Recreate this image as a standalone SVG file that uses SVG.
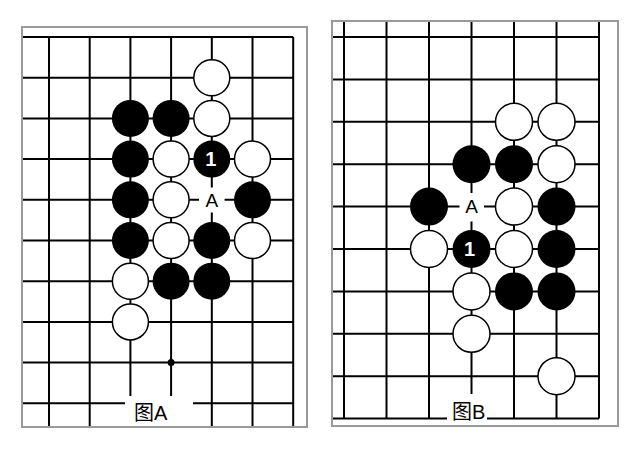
<svg xmlns="http://www.w3.org/2000/svg" width="640" height="453" viewBox="0 0 640 453">
<style>
.g{stroke:#000;stroke-width:2;fill:none}
.w{fill:#fff;stroke:#000;stroke-width:1.5}
.b{fill:#000}
.bd{fill:none;stroke:#999;stroke-width:2}
.lab{font-family:"Liberation Sans","Noto Sans CJK SC",sans-serif;font-size:20px;fill:#000}
.mk{font-family:"Liberation Sans",sans-serif;font-size:19px;fill:#000;text-anchor:middle}
.num{font-family:"Liberation Sans",sans-serif;font-size:20px;font-weight:bold;fill:#fff;text-anchor:middle}
</style>
<rect width="640" height="453" fill="#fff"/>
<g id="boardA">
<g id="gridA" class="g">
<path d="M49,37V427M89.7,37V427M130.4,37V427M171.1,37V427M211.8,37V427M252.5,37V427M293.2,37V427"/>
<path d="M22,37H293.2M22,77.7H293.2M22,118.4H293.2M22,159.1H293.2M22,199.8H293.2M22,240.5H293.2M22,281.2H293.2M22,321.9H293.2M22,362.6H293.2M22,403.3H293.2"/>
</g>
<circle cx="171.1" cy="362.6" r="3.5" class="b"/>
<rect x="125" y="396" width="68" height="30" fill="#fff"/>
<rect x="199" y="187.5" width="25.6" height="25" fill="#fff"/>
<g id="stonesA">
<circle cx="211.8" cy="77.7" r="18" class="w"/>
<circle cx="130.4" cy="118.4" r="18.5" class="b"/>
<circle cx="171.1" cy="118.4" r="18.5" class="b"/>
<circle cx="211.8" cy="118.4" r="18" class="w"/>
<circle cx="130.4" cy="159.1" r="18.5" class="b"/>
<circle cx="171.1" cy="159.1" r="18" class="w"/>
<circle cx="211.8" cy="159.1" r="18.5" class="b"/>
<circle cx="252.5" cy="159.1" r="18" class="w"/>
<circle cx="130.4" cy="199.8" r="18.5" class="b"/>
<circle cx="171.1" cy="199.8" r="18" class="w"/>
<circle cx="252.5" cy="199.8" r="18.5" class="b"/>
<circle cx="130.4" cy="240.5" r="18.5" class="b"/>
<circle cx="171.1" cy="240.5" r="18" class="w"/>
<circle cx="211.8" cy="240.5" r="18.5" class="b"/>
<circle cx="252.5" cy="240.5" r="18" class="w"/>
<circle cx="130.4" cy="281.2" r="18" class="w"/>
<circle cx="171.1" cy="281.2" r="18.5" class="b"/>
<circle cx="211.8" cy="281.2" r="18.5" class="b"/>
<circle cx="130.4" cy="321.9" r="18" class="w"/>
</g>
<text x="210.8" y="166.3" class="num">1</text>
<text x="211.8" y="206.6" class="mk">A</text>
<text x="134" y="420" class="lab">图A</text>
<rect x="22" y="27" width="285" height="400" class="bd"/>
</g>
<g id="boardB">
<g id="gridB" class="g">
<path d="M344,21V418.6M386.5,21V418.6M429,21V418.6M471.5,21V418.6M514,21V418.6M556.5,21V418.6M599,21V418.6"/>
<path d="M332,37H599M332,79.4H599M332,121.8H599M332,164.2H599M332,206.6H599M332,249H599M332,291.4H599M332,333.8H599M332,376.2H599M332,418.6H599"/>
</g>
<rect x="447" y="394" width="40" height="31" fill="#fff"/>
<rect x="459.5" y="193" width="24.5" height="28.5" fill="#fff"/>
<g id="stonesB">
<circle cx="514" cy="121.8" r="18.5" class="w"/>
<circle cx="556.5" cy="121.8" r="18.5" class="w"/>
<circle cx="471.5" cy="164.2" r="19" class="b"/>
<circle cx="514" cy="164.2" r="19" class="b"/>
<circle cx="556.5" cy="164.2" r="18.5" class="w"/>
<circle cx="429" cy="206.6" r="19" class="b"/>
<circle cx="514" cy="206.6" r="18.5" class="w"/>
<circle cx="556.5" cy="206.6" r="19" class="b"/>
<circle cx="429" cy="249" r="18.5" class="w"/>
<circle cx="471.5" cy="249" r="19" class="b"/>
<circle cx="514" cy="249" r="18.5" class="w"/>
<circle cx="556.5" cy="249" r="19" class="b"/>
<circle cx="471.5" cy="291.4" r="18.5" class="w"/>
<circle cx="514" cy="291.4" r="19" class="b"/>
<circle cx="556.5" cy="291.4" r="19" class="b"/>
<circle cx="471.5" cy="333.8" r="18.5" class="w"/>
<circle cx="556.5" cy="376.2" r="18.5" class="w"/>
</g>
<text x="469.5" y="256.2" class="num">1</text>
<text x="471.5" y="213.4" class="mk">A</text>
<text x="452" y="419" class="lab">图B</text>
<rect x="332" y="21" width="286" height="405" class="bd"/>
</g>
</svg>
